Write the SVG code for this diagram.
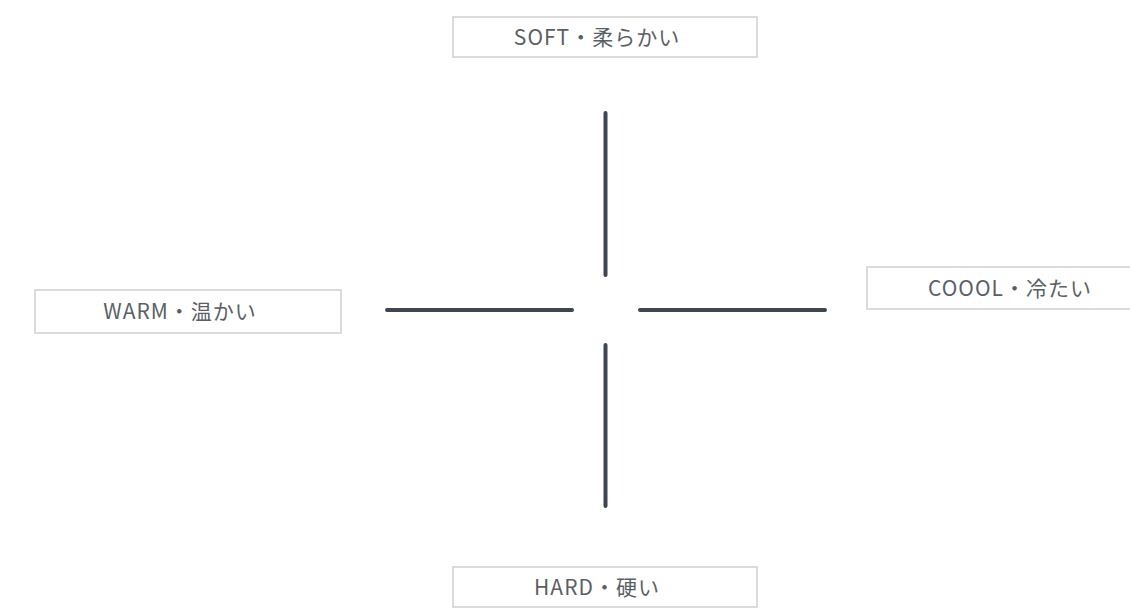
<svg xmlns="http://www.w3.org/2000/svg" width="1130" height="608" viewBox="0 0 1130 608">
<style>
.box{fill:#ffffff;stroke:#cfcfcf;stroke-width:1.5}
.lbl{font-family:"Noto Sans CJK JP","Noto Sans",sans-serif;font-size:21px;fill:#5a5f66;text-anchor:middle;letter-spacing:1px}
.axis{stroke:#3e4750;stroke-width:4;stroke-linecap:round;fill:none}
</style>
<rect width="1130" height="608" fill="#ffffff"/>
<g id="connectors">
<line class="axis" x1="605.5" y1="113" x2="605.5" y2="275"/>
<line class="axis" x1="605.5" y1="345" x2="605.5" y2="506"/>
<line class="axis" x1="387" y1="310" x2="572" y2="310"/>
<line class="axis" x1="640" y1="310" x2="825" y2="310"/>
</g>
<g id="soft">
<rect class="box" x="453" y="17" width="304" height="40"/>
<text class="lbl" x="597" y="45">SOFT・柔らかい</text>
</g>
<g id="warm">
<rect class="box" x="35" y="290" width="306" height="43"/>
<text class="lbl" x="180" y="319">WARM・温かい</text>
</g>
<g id="coool">
<rect class="box" x="867" y="267" width="305" height="42"/>
<text class="lbl" x="1010" y="296">COOOL・冷たい</text>
</g>
<g id="hard">
<rect class="box" x="453" y="567" width="304" height="40"/>
<text class="lbl" x="597" y="595">HARD・硬い</text>
</g>
</svg>
